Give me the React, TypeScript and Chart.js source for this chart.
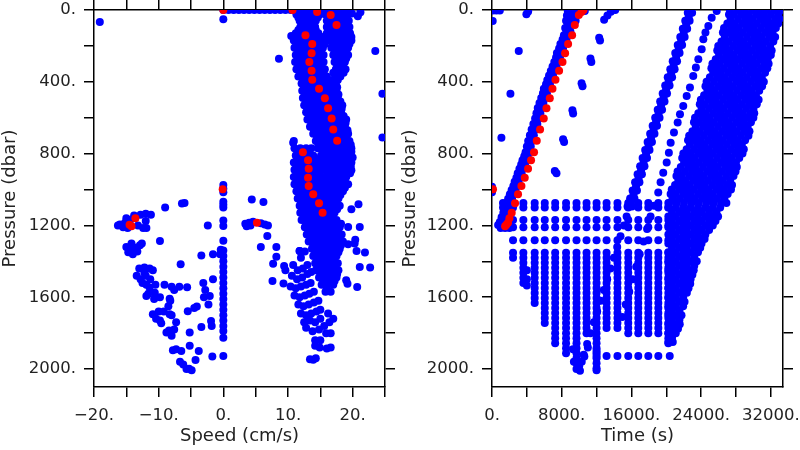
import { useEffect, useRef } from 'react';
import { Chart, registerables } from 'chart.js';

Chart.register(...registerables);

const FONT = "'DejaVu Sans', sans-serif";
const TEXT = '#222';
const BLUE = '#0000ff';
const RED = '#ff0000';

// ---------- axis ticks ----------
const pressureTicks = [0, 200, 400, 600, 800, 1000, 1200, 1400, 1600, 1800, 2000];
const pressureLabelStep = 400;
const speedTicks = [-20, -15, -10, -5, 0, 5, 10, 15, 20, 25];
const speedLabelStep = 10;
const timeTicks = [0, 4000, 8000, 12000, 16000, 20000, 24000, 28000, 32000];
const timeLabelStep = 8000;

// ---------- red profile (shared by both panels) ----------
const redPressure = [0, 0, 11, 28, 84, 141, 189, 241, 290, 339, 389, 438, 491, 547, 605, 666, 729, 793, 837, 884, 934, 980, 1027, 1077, 1129, 1160, 1185, 1196, 1205, 999];
const redSpeed = [0, 10.7, 14.5, 16.6, 17.5, 12.7, 13.75, 13.65, 13.3, 13.65, 13.75, 14.8, 15.7, 16.2, 16.75, 17.0, 17.6, 12.3, 13.1, 13.2, 13.1, 13.2, 13.9, 14.8, 15.35, -13.6, 5.2, -14.5, -14.2, -0.1];
const redTime = [10500, 10400, 10275, 9966, 9506, 9195, 8736, 8391, 8092, 7701, 7287, 6942, 6632, 6253, 5942, 5517, 5138, 4827, 4483, 4138, 3759, 3379, 2989, 2644, 2264, 2000, 1839, 1650, 1500, 115];

// ---------- left panel: speed (cm/s) vs pressure (dbar) ----------
// rows: [pressure, speed, speed, ...]
const speedBandRows: number[][] = [
  [0, 0, 0.8, 1.6, 2.4, 3.2, 4, 4.8, 5.6, 6.4, 7.2, 8, 8.8, 9.6, 10.4, 11.2, 12.1, 13, 13.9, 14.8, 15.7, 16.6, 17.5, 18.4, 19.2],
  [25, 11.3, 12.2, 13.1, 14.0, 14.9, 15.8, 16.7, 17.6, 18.5, 19.3],
  [42, 11.6, 12.5, 13.4, 14.6, 16.3, 17.2, 18.1, 19.0],
  [60, 11.8, 12.7, 13.6, 14.3, 16.0, 16.9, 17.8, 18.7, 19.4],
  [78, 12.2, 13.1, 13.9, 16.3, 17.2, 18.1, 19.0],
  [95, 11.9, 12.8, 13.6, 14.2, 16.0, 16.8, 17.7, 18.6, 19.5],
  [112, 11.6, 12.5, 13.4, 14.3, 16.4, 17.3, 18.2, 19.1],
  [130, 11.2, 12.1, 13.0, 13.9, 14.7, 16.0, 16.9, 17.8, 18.7, 19.6],
  [150, 11.0, 11.9, 12.8, 13.7, 14.6, 15.4, 16.4, 17.3, 18.2, 19.1, 19.8],
  [170, 10.9, 11.8, 12.7, 13.6, 14.5, 15.3, 16.4, 17.3, 18.2, 19.1, 19.8],
  [190, 11.3, 12.2, 13.1, 14.0, 14.9, 15.7, 16.9, 17.8, 18.7, 19.5],
  [210, 11.0, 11.9, 12.8, 13.7, 14.6, 15.4, 16.7, 17.6, 18.5, 19.3],
  [230, 11.5, 12.4, 13.3, 14.2, 15.1, 17.2, 18.1, 19.0],
  [250, 11.2, 12.1, 13.0, 13.9, 14.8, 15.5, 17.0, 17.9, 18.8, 19.3],
  [270, 11.5, 12.4, 13.3, 14.2, 15.0, 17.4, 18.3, 19.0],
  [290, 11.1, 12.0, 12.9, 13.8, 14.7, 15.5, 17.2, 18.0, 18.8],
  [310, 11.6, 12.5, 13.4, 14.3, 15.2, 17.6, 18.5],
  [330, 11.3, 12.2, 13.1, 14.0, 14.9, 15.7, 17.4, 18.3, 18.9],
  [350, 11.9, 12.8, 13.7, 14.6, 15.5, 17.0, 17.8, 18.6],
  [370, 11.6, 12.5, 13.4, 14.3, 15.2, 16.0, 17.4, 18.1],
  [390, 12.3, 13.2, 14.1, 15.0, 15.9, 16.8, 17.7],
  [410, 12.1, 13.0, 13.9, 14.8, 15.7, 16.6, 17.4],
  [430, 12.5, 13.4, 14.3, 15.2, 16.1, 17.0, 17.6],
  [450, 12.2, 13.1, 14.0, 14.9, 15.8, 16.7, 17.5],
  [470, 12.6, 13.5, 14.4, 15.3, 16.2, 17.1, 17.8],
  [490, 12.3, 13.2, 14.1, 15.0, 15.9, 16.8, 17.7],
  [510, 12.8, 13.7, 14.6, 15.5, 16.4, 17.3, 18.1],
  [530, 12.5, 13.4, 14.3, 15.2, 16.1, 17.0, 17.9, 18.4],
  [550, 13.0, 13.9, 14.8, 15.7, 16.6, 17.5, 18.3],
  [570, 12.8, 13.7, 14.6, 15.5, 16.4, 17.3, 18.2],
  [590, 13.3, 14.2, 15.1, 16.0, 16.9, 17.8, 18.6],
  [610, 13.0, 13.9, 14.8, 15.7, 16.6, 17.5, 18.4, 19.0],
  [630, 13.6, 14.5, 15.4, 16.3, 17.2, 18.1, 18.9],
  [650, 13.4, 14.3, 15.2, 16.1, 17.0, 17.9, 18.8],
  [670, 14.0, 14.9, 15.8, 16.7, 17.6, 18.5, 19.2],
  [690, 13.9, 14.8, 15.7, 16.6, 17.5, 18.4, 19.3],
  [710, 14.5, 15.4, 16.3, 17.2, 18.1, 19.0],
  [730, 14.3, 15.2, 16.1, 17.0, 17.9, 18.8, 19.5],
  [750, 14.7, 15.6, 16.5, 17.4, 18.3, 19.2, 19.7],
  [770, 11.0, 11.9, 12.8, 13.6, 14.6, 15.5, 16.4, 17.3, 18.2, 19.1, 19.8],
  [790, 11.5, 12.4, 13.3, 15.4, 16.3, 17.2, 18.1, 19.0, 19.8],
  [810, 11.2, 12.1, 13.0, 13.9, 15.1, 16.0, 16.9, 17.8, 18.7, 19.6],
  [830, 11.4, 12.3, 13.2, 14.1, 15.0, 15.9, 16.8, 17.7, 18.6, 19.5],
  [850, 10.9, 11.8, 12.7, 13.6, 14.5, 15.4, 16.3, 17.2, 18.1, 19.0, 19.8],
  [870, 11.3, 12.2, 13.1, 14.0, 15.0, 16.2, 17.1, 18.0, 18.9, 19.7],
  [890, 11.0, 11.9, 12.8, 13.7, 14.6, 15.8, 16.7, 17.6, 18.5, 19.4],
  [910, 11.3, 12.2, 13.1, 14.0, 14.9, 16.1, 17.0, 17.9, 18.8, 19.6],
  [930, 10.9, 11.8, 12.7, 13.6, 14.5, 15.4, 16.3, 17.2, 18.1, 19.0],
  [950, 11.3, 12.2, 13.1, 14.0, 14.9, 15.8, 17.0, 17.9, 18.8],
  [970, 11.0, 11.9, 12.8, 13.7, 14.6, 15.5, 16.6, 17.5, 18.4, 19.3],
  [990, 11.5, 12.4, 13.3, 14.2, 15.1, 16.0, 16.9, 17.8, 18.8],
  [1010, 11.3, 12.2, 13.1, 14.0, 14.9, 15.8, 16.7, 17.6, 18.5],
  [1030, 11.8, 12.7, 13.6, 14.5, 15.4, 16.3, 17.2, 18.1],
  [1050, 11.5, 12.4, 13.3, 14.2, 15.1, 16.0, 16.9, 17.8],
  [1070, 12.0, 12.9, 13.8, 14.7, 15.6, 16.5, 17.4],
  [1090, 11.8, 12.7, 13.6, 14.5, 15.4, 16.3, 17.2, 18.0],
  [1110, 12.2, 13.1, 14.0, 14.9, 15.8, 16.7, 17.6],
  [1130, 11.9, 12.8, 13.7, 14.6, 15.5, 16.4, 17.2],
  [1150, 12.4, 13.3, 14.2, 15.1, 16.0, 16.9],
  [1170, 12.1, 13.0, 13.9, 14.8, 15.7, 16.6, 17.5],
  [1190, 12.8, 13.7, 14.6, 15.5, 16.4, 17.3, 18.2],
  [1210, 12.6, 13.5, 14.4, 15.3, 16.2, 17.1, 18.0],
  [1230, 13.2, 14.1, 15.0, 15.9, 16.8, 17.7],
  [1250, 12.9, 13.8, 14.7, 15.6, 16.5, 17.4, 18.3],
  [1270, 13.5, 14.4, 15.3, 16.2, 17.1, 18.0],
  [1290, 13.2, 14.1, 15.0, 15.9, 16.8, 17.7, 18.5],
  [1310, 13.9, 14.8, 15.7, 16.6, 17.5, 18.2],
  [1330, 13.7, 14.6, 15.5, 16.4, 17.3, 18.0],
  [1350, 14.2, 15.1, 16.0, 16.9, 17.8],
  [1370, 13.9, 14.8, 15.7, 16.6, 17.5],
  [1390, 14.5, 15.4, 16.3, 17.2],
  [1410, 14.2, 15.1, 16.0, 16.9, 17.7],
  [1430, 14.6, 15.5, 16.4, 17.3],
  [1450, 14.3, 15.2, 16.1, 17.0, 17.8],
  [1470, 15.0, 15.9, 16.8, 17.6],
  [1490, 14.8, 15.7, 16.6, 17.5],
  [1510, 15.4, 16.3, 17.2],
  [1530, 15.2, 16.1, 17.0],
  [1550, 16.0],
  [1570, 15.8, 16.6],
];

// lower tail of the main band: [speed, pressure]
const speedTail: number[][] = [
  [12.0, 1380], [12.6, 1345], [11.8, 1343], [10.8, 1420], [11.5, 1450], [12.3, 1440], [13.0, 1420],
  [10.6, 1480], [11.4, 1500], [12.2, 1490], [13.0, 1470], [13.6, 1460], [10.4, 1540], [11.2, 1550],
  [12.0, 1540], [12.8, 1530], [13.5, 1520], [11.0, 1590], [11.8, 1600], [12.6, 1590], [13.3, 1580],
  [14.0, 1570], [11.6, 1640], [12.4, 1650], [13.2, 1640], [14.0, 1630], [14.7, 1620], [12.0, 1690],
  [12.8, 1700], [13.6, 1690], [14.4, 1680], [15.0, 1670], [12.5, 1740], [13.4, 1730], [14.2, 1740],
  [15.0, 1720], [12.8, 1770], [13.8, 1790], [14.8, 1780], [15.6, 1760], [16.4, 1740], [14.2, 1840],
  [15.0, 1840], [15.9, 1800], [16.6, 1800], [14.2, 1870], [14.9, 1880], [16.0, 1885], [16.6, 1880],
  [13.4, 1945], [13.9, 1948], [14.3, 1940], [17.0, 1720], [16.2, 1690],
];

// vertical line of points near zero speed: pressures
const zeroSpeedPressure = [975, 995, 1015, 1068, 1085, 1100, 1172, 1203, 1286, 1340, 1370, 1400, 1430, 1460, 1490, 1520, 1550, 1580, 1610, 1640, 1670, 1700, 1730, 1760, 1788, 1825, 1927];

// scattered points: [speed, pressure]
const speedScatter: number[][] = [
  [-19.1, 67], [0, 52], [8.6, 271], [10.5, 145], [10.9, 730], [10.8, 740],
  [20.9, 1082], [19.8, 1110], [21.1, 1209], [19.3, 1209], [19.3, 1305], [20.4, 1280], [20.3, 1300],
  [20.6, 1343], [21.9, 1351], [22.7, 1435], [21.1, 1432], [19.0, 1506], [19.2, 1525], [20.7, 1543],
  [20.0, 822], [19.8, 892], [21.2, 12], [20.8, 35], [23.5, 228], [24.6, 466], [24.6, 710], [19.9, 20],
  [-0.4, 1335], [-0.5, 1360], [-1.6, 1360], [-1.6, 1500], [-2.1, 1593], [-2.3, 1640], [-3.1, 1520],
  [-3.4, 1368], [-2.4, 1200], [-4.1, 1652], [-4.5, 1660], [-1.9, 1733], [-1.8, 1760], [-3.4, 1766],
  [-3.8, 1900], [-4.3, 1950], [-1.7, 1930], [-5.2, 1870], [-5.2, 1796], [-5.5, 1678], [-5.6, 1545],
  [-6.6, 1416], [-6.8, 1542], [-2.8, 1560], [-3.0, 1600],
  [-16.0, 1195], [-15.2, 1185], [-14.4, 1170], [-13.6, 1155], [-12.8, 1140], [-12.0, 1135], [-11.2, 1140],
  [-15.5, 1210], [-14.8, 1215], [-13.2, 1200], [-12.4, 1215], [-13.8, 1145], [-15.0, 1160], [-12.0, 1175],
  [-16.3, 1200], [-11.9, 1215], [-9.0, 1100], [-6.4, 1078], [-6.0, 1075], [-9.8, 1287],
  [-15.0, 1320], [-14.3, 1330], [-13.6, 1325], [-12.9, 1310], [-14.7, 1350], [-14.0, 1360], [-13.3, 1345],
  [-12.6, 1300], [-14.2, 1300],
  [-13.4, 1480], [-13.0, 1440], [-12.2, 1435], [-11.4, 1440], [-10.9, 1450], [-12.8, 1500], [-12.0, 1480],
  [-11.3, 1500], [-11.9, 1530], [-11.4, 1546], [-10.5, 1530], [-12.5, 1520], [-10.6, 1575], [-11.6, 1580],
  [-12.2, 1465], [-11.9, 1593], [-10.7, 1610], [-9.8, 1600], [-8.2, 1620], [-10.9, 1695], [-10.0, 1680],
  [-9.2, 1680], [-8.3, 1695], [-8.0, 1700], [-10.4, 1720], [-9.8, 1730], [-9.6, 1745], [-8.8, 1797],
  [-8.4, 1785], [-7.6, 1780], [-8.0, 1815], [-7.3, 1890], [-6.5, 1900], [-7.8, 1895], [-6.7, 1960],
  [-6.2, 1975], [-5.7, 2000], [-4.9, 2007], [-5.3, 1998], [-7.3, 1740], [-8.3, 1608], [-8.5, 1650],
  [-8.0, 1542], [-7.6, 1560], [-9.1, 1530],
  [3.4, 1190], [4.0, 1185], [4.6, 1180], [5.8, 1188], [6.4, 1195], [6.9, 1200], [4.2, 1200], [3.6, 1205],
  [4.4, 1055], [6.2, 1070], [6.8, 1259], [5.8, 1320], [8.2, 1320], [8.2, 1374], [7.7, 1413], [7.6, 1510],
  [9.3, 1524], [9.4, 1426], [9.6, 1450], [11.8, 1343],
];

// ---------- right panel: time (s) vs pressure (dbar) ----------
// blue points along the red profile: [pressure, time, ...]
const timePathRows: number[][] = [
  [5, 8700, 9300, 9900, 10650], [17, 9000, 9700], [30, 8600, 9200, 9650], [45, 8900, 9400],
  [60, 8500, 9000, 9600], [80, 8700, 9200], [100, 8400, 8900], [120, 8550, 9000], [141, 8250, 8700],
  [165, 8100, 8550], [190, 7850, 8300], [215, 7700, 8150], [240, 7450, 7950], [265, 7350, 7800],
  [290, 7150, 7600], [315, 6950, 7400], [340, 6750, 7200], [365, 6550, 7000], [390, 6350, 6800],
  [414, 6200, 6650], [438, 5950, 6450], [464, 5850, 6300], [490, 5650, 6150], [518, 5450, 5900],
  [546, 5250, 5750], [575, 5100, 5550], [605, 4950, 5400], [635, 4750, 5200], [666, 4550, 5000],
  [698, 4350, 4800], [730, 4150, 4600], [761, 4000, 4450], [793, 3850, 4300], [815, 3700, 4100],
  [837, 3500, 3950], [860, 3350, 3800], [884, 3150, 3600], [909, 2950, 3400], [934, 2800, 3250],
  [957, 2600, 3050], [980, 2450, 2900], [1003, 2250, 2700], [1027, 2050, 2500], [1052, 1850, 2300],
  [1077, 1650, 2100], [1103, 1500, 1900], [1129, 1300, 1750], [1155, 1100, 1550], [1181, 900, 1350],
  [1198, 700, 1200], [1215, 1000, 1500, 2000],
];

// first steep profile on the right: [pressure, time, ...]
const timeLine1Rows: number[][] = [
  [15, 22470, 22970], [37, 22580], [60, 22180, 22680], [82, 22291], [105, 21900, 22400], [127, 22003],
  [150, 21610, 22110], [172, 21715], [195, 21320, 21820], [217, 21427], [240, 21030, 21530], [262, 21139],
  [285, 20740, 21240], [307, 20851], [330, 20460, 20960], [352, 20563], [375, 20170, 20670], [397, 20275],
  [420, 19880, 20380], [442, 19987], [465, 19590, 20090], [487, 19699], [510, 19300, 19800], [532, 19411],
  [555, 19020, 19520], [577, 19123], [600, 18730, 19230], [622, 18835], [645, 18440, 18940], [667, 18547],
  [690, 18150, 18650], [712, 18259], [735, 17860, 18360], [757, 17971], [780, 17580, 18080], [802, 17683],
  [825, 17290, 17790], [847, 17395], [870, 17000, 17500], [892, 17107], [915, 16710, 17210], [937, 16819],
  [960, 16420, 16920], [982, 16531], [1005, 16140, 16640], [1027, 16243], [1050, 15850, 16350],
  [1072, 15955], [1095, 15560, 16060],
];

// single scattered points: [time, pressure]
const timeScatter: number[][] = [
  [100, 3], [500, 3], [900, 3], [80, 61], [3950, 24], [4150, 8], [3070, 228], [2115, 466], [1080, 711],
  [0, 985], [0, 1015],
  [14140, 0], [13640, 10], [13250, 30], [12870, 55], [12300, 155], [12400, 170], [11300, 270], [11400, 290],
  [10280, 408], [10390, 425], [9230, 559], [9310, 577], [8160, 720], [8275, 735], [7210, 897], [7400, 910],
  [15450, 1150], [15140, 1200], [14750, 1260], [14370, 1320], [13990, 1380], [13600, 1440], [13220, 1500],
  [12840, 1560], [12460, 1620], [12070, 1680], [11690, 1740], [11300, 1800], [10920, 1860], [10530, 1920],
  [9400, 1960], [9700, 2000], [10000, 1985], [10300, 1960], [10600, 1930], [9300, 1890], [10100, 2010],
  [25790, 6], [25215, 43], [24830, 89], [24500, 125], [24255, 163], [24065, 219], [23680, 275], [23400, 320],
  [23100, 367], [22720, 432], [22345, 479], [21950, 535], [21575, 581], [21310, 627], [20885, 683],
  [20505, 739], [20300, 795], [20050, 850], [19655, 906], [19350, 960], [19080, 1017],
  [18600, 1090], [18200, 1150], [17800, 1220], [17400, 1290], [16950, 1360], [16550, 1430], [16150, 1500],
  [15750, 1570], [15350, 1640], [14950, 1710],
  [4000, 1450], [4000, 1500], [4000, 1535], [11000, 1880], [12000, 1900],
  [12000, 1927], [13150, 1927], [14400, 1927], [15640, 1927], [16790, 1927], [17940, 1927], [19090, 1927], [20400, 1927],
];

// the grid of parked measurements: column times, their deepest pressure, and the sampled levels
const gridTimes = [1264, 2414, 3600, 4900, 6057, 7250, 8500, 9700, 10850, 12000, 13150, 14400, 15640, 16790, 17940, 19090, 20240];
const gridBottoms = [1100, 1380, 1537, 1640, 1751, 1853, 1918, 1974, 1810, 2007, 1780, 1780, 1816, 1816, 1816, 1816, 1862];
const gridLevels = [1075, 1100, 1170, 1210, 1283, 1352, 1380, 1408, 1436, 1464, 1492, 1520, 1548, 1576, 1604, 1632, 1660, 1688, 1716, 1744, 1772, 1800, 1828, 1856, 1884, 1912, 1940, 1968, 1996, 2007];

// the dense band of many profiles at the right: [pressure, time, ...]
const timeDenseRows: number[][] = [
  [0, 27300, 28150, 29000, 29850, 30700, 31550, 32400, 33250],
  [25, 27200, 27770, 28620, 29470, 30320, 31170, 32020, 32870],
  [50, 27390, 28240, 29090, 29940, 30790, 31640, 32490, 33000],
  [75, 27010, 27860, 28710, 29560, 30410, 31260, 32110, 32850],
  [100, 26630, 27480, 28330, 29180, 30030, 30880, 31730, 32580],
  [125, 26500, 27100, 27950, 28800, 29650, 30500, 31350, 32200],
  [150, 26720, 27570, 28420, 29270, 30120, 30970, 31820, 32500],
  [175, 26340, 27190, 28040, 28890, 29740, 30590, 31440, 32290],
  [200, 25970, 26820, 27670, 28520, 29370, 30220, 31070, 31920],
  [225, 25850, 26440, 27290, 28140, 28990, 29840, 30690, 31540, 32100],
  [250, 26060, 26910, 27760, 28610, 29460, 30310, 31160, 32000],
  [275, 25680, 26530, 27380, 28230, 29080, 29930, 30780, 31630],
  [300, 25300, 26150, 27000, 27850, 28700, 29550, 30400, 31250, 31750],
  [325, 25180, 25770, 26620, 27470, 28320, 29170, 30020, 30870, 31600],
  [350, 25390, 26240, 27090, 27940, 28790, 29640, 30490, 31340],
  [375, 25010, 25860, 26710, 27560, 28410, 29260, 30110, 30960],
  [400, 24630, 25480, 26330, 27180, 28030, 28880, 29730, 30580, 31200],
  [425, 24500, 25100, 25950, 26800, 27650, 28500, 29350, 30200, 31000],
  [450, 24720, 25570, 26420, 27270, 28120, 28970, 29820, 30670],
  [475, 24340, 25190, 26040, 26890, 27740, 28590, 29440, 30290],
  [500, 23970, 24820, 25670, 26520, 27370, 28220, 29070, 29920, 30600],
  [525, 23850, 24440, 25290, 26140, 26990, 27840, 28690, 29540, 30390],
  [550, 24060, 24910, 25760, 26610, 27460, 28310, 29160, 30010],
  [575, 23680, 24530, 25380, 26230, 27080, 27930, 28780, 29630, 30100],
  [600, 23300, 24150, 25000, 25850, 26700, 27550, 28400, 29250, 30000],
  [625, 23180, 23770, 24620, 25470, 26320, 27170, 28020, 28870, 29720],
  [650, 23390, 24240, 25090, 25940, 26790, 27640, 28490, 29340],
  [675, 23010, 23860, 24710, 25560, 26410, 27260, 28110, 28960, 29550],
  [700, 22630, 23480, 24330, 25180, 26030, 26880, 27730, 28580, 29430],
  [725, 22500, 23100, 23950, 24800, 25650, 26500, 27350, 28200, 29050],
  [750, 22720, 23570, 24420, 25270, 26120, 26970, 27820, 28670],
  [775, 22340, 23190, 24040, 24890, 25740, 26590, 27440, 28290, 28900],
  [800, 21960, 22810, 23660, 24510, 25360, 26210, 27060, 27910, 28750],
  [825, 21830, 22430, 23280, 24130, 24980, 25830, 26680, 27530, 28380],
  [850, 22050, 22900, 23750, 24600, 25450, 26300, 27150, 28000],
  [875, 21670, 22520, 23370, 24220, 25070, 25920, 26770, 27620, 28100],
  [900, 21300, 22150, 23000, 23850, 24700, 25550, 26400, 27250, 27950],
  [925, 21170, 21770, 22620, 23470, 24320, 25170, 26020, 26870, 27720],
  [950, 21390, 22240, 23090, 23940, 24790, 25640, 26490, 27340],
  [975, 21010, 21860, 22710, 23560, 24410, 25260, 26110, 26960, 27550],
  [1000, 20630, 21480, 22330, 23180, 24030, 24880, 25730, 26580, 27430],
  [1025, 20500, 21100, 21950, 22800, 23650, 24500, 25350, 26200, 27050],
  [1050, 20720, 21570, 22420, 23270, 24120, 24970, 25820, 26670],
  [1075, 20340, 21190, 22040, 22890, 23740, 24590, 25440, 26290, 26900],
  [1100, 20240, 21090, 21940, 22790, 23640, 24490, 25340, 26190],
  [1125, 20665, 21515, 22365, 23215, 24065, 24915, 25765],
  [1150, 20240, 21090, 21940, 22790, 23640, 24490, 25340, 25950],
  [1175, 20665, 21515, 22365, 23215, 24065, 24915, 25650],
  [1200, 20240, 21090, 21940, 22790, 23640, 24490, 25340],
  [1225, 20665, 21515, 22365, 23215, 24065, 24915],
  [1250, 20240, 21090, 21940, 22790, 23640, 24490],
  [1275, 20665, 21515, 22365, 23215, 24065, 24400],
  [1300, 20240, 21090, 21940, 22790, 23640, 24050],
  [1325, 20665, 21515, 22365, 23215, 23900],
  [1350, 20240, 21090, 21940, 22790, 23640],
  [1375, 20665, 21515, 22365, 23215],
  [1400, 20240, 21090, 21940, 22790, 23500],
  [1425, 20665, 21515, 22365, 23215],
  [1450, 20240, 21090, 21940, 22790, 23150],
  [1475, 20665, 21515, 22365, 23000],
  [1500, 20240, 21090, 21940, 22790],
  [1525, 20665, 21515, 22365, 22750],
  [1550, 20240, 21090, 21940, 22550],
  [1575, 20665, 21515, 22365],
  [1600, 20240, 21090, 21940],
  [1625, 20665, 21515, 22100],
  [1650, 20240, 21090, 21940],
  [1675, 20665, 21515],
  [1700, 20240, 21090, 21750],
  [1725, 20665, 21515],
  [1750, 20240, 21090, 21550],
  [1775, 20665, 21350],
  [1800, 20240, 21090],
  [1825, 20665],
  [1850, 20240, 20750],
];

// ---------- helpers ----------
type Pt = { x: number; y: number };
const fromRows = (rows: number[][]): Pt[] =>
  rows.flatMap((r) => r.slice(1).map((v) => ({ x: v, y: r[0] })));
const fromPairs = (pairs: number[][]): Pt[] => pairs.map(([x, y]) => ({ x, y }));

const leftBlue: Pt[] = [
  ...fromRows(speedBandRows),
  ...fromPairs(speedTail),
  ...zeroSpeedPressure.map((p) => ({ x: 0, y: p })),
  ...fromPairs(speedScatter),
];
const leftRed: Pt[] = redPressure.map((p, i) => ({ x: redSpeed[i], y: p }));

const gridPoints: Pt[] = gridTimes.flatMap((t, i) =>
  gridLevels.filter((p) => p <= gridBottoms[i] + 5).map((p) => ({ x: t, y: p }))
);
const rightBlue: Pt[] = [
  ...fromRows(timePathRows),
  ...fromRows(timeLine1Rows),
  ...fromPairs(timeScatter),
  ...gridPoints,
  ...fromRows(timeDenseRows),
];
const rightRed: Pt[] = redPressure.map((p, i) => ({ x: redTime[i], y: p }));

const near = (v: number, step: number) => Math.abs(v / step - Math.round(v / step)) < 1e-6;
const fmt = (v: number) => (v < 0 ? '\u2212' + Math.abs(v) : String(Math.abs(v))) + '.';

interface PanelOpts {
  blue: Pt[];
  red: Pt[];
  xMin: number;
  xMax: number;
  xTicks: number[];
  xLabelStep: number;
  xTitle: string;
  leftWidth: number;
  rightPad: number;
}

function makeChart(canvas: HTMLCanvasElement, o: PanelOpts) {
  const tickFont = { family: FONT, size: 16.5 };
  const titleFont = { family: FONT, size: 18 };
  const grid = {
    drawOnChartArea: false,
    drawTicks: true,
    tickLength: 10,
    color: '#000',
    lineWidth: 1.5,
    tickColor: '#000',
    tickWidth: 1.5,
  };
  const border = { display: true, color: '#000', width: 1.5 };
  const setTicks = (values: number[]) => (s: any) => {
    s.ticks = values.map((v) => ({ value: v }));
  };
  const labelTicks = (step: number, show: boolean) => (s: any) => {
    s.ticks.forEach((t: any) => {
      t.label = show && near(t.value, step) ? fmt(Math.round(t.value)) : '';
    });
  };

  const xAxis = (position: string, show: boolean, height: number) => ({
    type: 'linear',
    position,
    min: o.xMin,
    max: o.xMax,
    grid,
    border,
    ticks: {
      display: show,
      autoSkip: false,
      maxRotation: 0,
      minRotation: 0,
      padding: 9,
      color: TEXT,
      font: tickFont,
    },
    afterBuildTicks: setTicks(o.xTicks),
    afterTickToLabelConversion: labelTicks(o.xLabelStep, show),
    title: show
      ? { display: true, text: o.xTitle, color: TEXT, font: titleFont, padding: { top: 0, bottom: 3 } }
      : { display: false },
    afterFit: (s: any) => {
      s.height = height;
      s.paddingLeft = 0;
      s.paddingRight = 0;
    },
  });
  const yAxis = (position: string, show: boolean, width: number) => ({
    type: 'linear',
    position,
    min: 0,
    max: 2100,
    reverse: true,
    grid,
    border,
    ticks: {
      display: show,
      autoSkip: false,
      padding: 8,
      color: TEXT,
      font: tickFont,
    },
    afterBuildTicks: setTicks(pressureTicks),
    afterTickToLabelConversion: labelTicks(pressureLabelStep, show),
    title: show
      ? { display: true, text: 'Pressure (dbar)', color: TEXT, font: titleFont, padding: { top: 0, bottom: 0 } }
      : { display: false },
    afterFit: (s: any) => {
      s.width = width;
      s.paddingTop = 0;
      s.paddingBottom = 0;
    },
  });

  const ds = (data: Pt[], color: string, order: number) => ({
    data,
    xAxisID: 'x',
    yAxisID: 'y',
    backgroundColor: color,
    borderColor: color,
    pointRadius: 4,
    pointBorderWidth: 0,
    pointHoverRadius: 4,
    order,
    clip: 0,
  });

  return new Chart(canvas, {
    type: 'scatter',
    data: { datasets: [ds(o.red, RED, 0), ds(o.blue, BLUE, 1)] as any },
    options: {
      animation: false,
      responsive: false,
      events: [],
      layout: { padding: { left: 0, right: o.rightPad, top: 0, bottom: 0 } },
      plugins: { legend: { display: false }, tooltip: { enabled: false } },
      scales: {
        x: xAxis('bottom', true, 63),
        x2: xAxis('top', false, 10),
        y: yAxis('left', true, o.leftWidth),
        y2: yAxis('right', false, 10),
      } as any,
    },
  });
}

export default function App() {
  const leftRef = useRef<HTMLCanvasElement | null>(null);
  const rightRef = useRef<HTMLCanvasElement | null>(null);

  useEffect(() => {
    if (!leftRef.current || !rightRef.current) return;
    const a = makeChart(leftRef.current, {
      blue: leftBlue,
      red: leftRed,
      xMin: -20,
      xMax: 25,
      xTicks: speedTicks,
      xLabelStep: speedLabelStep,
      xTitle: 'Speed (cm/s)',
      leftWidth: 94,
      rightPad: 5,
    });
    const b = makeChart(rightRef.current, {
      blue: rightBlue,
      red: rightRed,
      xMin: 0,
      xMax: 33400,
      xTicks: timeTicks,
      xLabelStep: timeLabelStep,
      xTitle: 'Time (s)',
      leftWidth: 92,
      rightPad: 7,
    });
    return () => {
      a.destroy();
      b.destroy();
    };
  }, []);

  return (
    <div style={{ position: 'fixed', left: 0, top: 0, width: 800, height: 450, background: '#fff', display: 'flex' }}>
      <canvas ref={leftRef} width={400} height={450} style={{ width: 400, height: 450, display: 'block' }} />
      <canvas ref={rightRef} width={400} height={450} style={{ width: 400, height: 450, display: 'block' }} />
    </div>
  );
}
